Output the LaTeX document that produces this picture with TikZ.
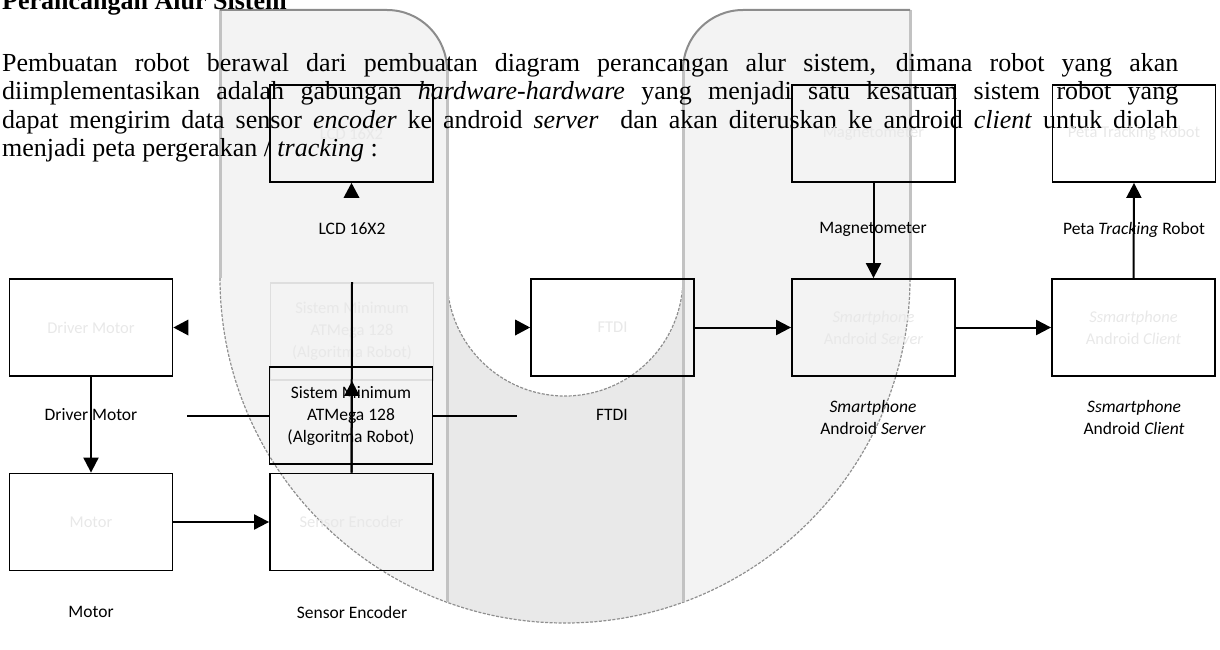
\documentclass[tikz,border=0pt]{standalone}
\usepackage{fontspec}
\setmainfont{Liberation Serif}
\newfontfamily\carl{Carlito}
\usetikzlibrary{arrows.meta}
\definecolor{armgray}{HTML}{F3F3F3}
\definecolor{midgray}{HTML}{E9E9E9}
\definecolor{edgegray}{HTML}{C2C2C2}
\definecolor{topgray}{HTML}{8C8C8C}
\definecolor{dashgray}{HTML}{8F8F8F}
\definecolor{faint}{HTML}{E8E8E8}
\definecolor{ghostline}{HTML}{DEDEDE}
\begin{document}
\begin{tikzpicture}[x=1pt,y=-1pt,
  box/.style={draw=black, line width=1.8pt, minimum width=163pt, minimum height=97pt, inner sep=0pt,
    font=\carl\fontsize{16.5pt}{22pt}\selectfont, text=faint, align=center},
  ghostbox/.style={box, draw=ghostline},
  lbl/.style={font=\carl\fontsize{17.5pt}{22pt}\selectfont, align=center, inner sep=0pt},
  conn/.style={line width=2pt, -{Triangle[length=15pt,width=15pt]}},
  plainline/.style={line width=2pt},
  para/.style={anchor=base west, inner sep=0pt, font=\fontsize{26pt}{28pt}\selectfont},
  arcline/.style={dashgray, line width=1.2pt, dash pattern=on 3pt off 1.5pt},
  sideline/.style={edgegray, line width=3pt},
  topline/.style={topgray, line width=2pt},
]
\useasboundingbox (0,0) rectangle (1220,650);
\clip (0,0) rectangle (1220,650);

% ---- U shape ----
\begin{scope}
  \clip (0,278) rectangle (1220,650);
  \fill[armgray] (565,278) circle[radius=345];
\end{scope}
\fill[armgray] (220,278) -- (220,10) -- (387,10) arc[start angle=-90,end angle=0,radius=60] -- (447,278) -- cycle;
\fill[armgray] (910,278) -- (910,10) -- (743,10) arc[start angle=-90,end angle=-180,radius=60] -- (683,278) -- cycle;
\begin{scope}
  \clip (565,278) circle[radius=345];
  \fill[midgray] (447,278) rectangle (683,650);
\end{scope}
\begin{scope}
  \clip (0,278) rectangle (1220,650);
  \fill[white] (565,278) circle[radius=118];
\end{scope}
\draw[arcline] (220,278) arc[start angle=180,end angle=0,radius=345];
\draw[arcline] (447,278) arc[start angle=180,end angle=0,radius=118];
\draw[sideline] (220,10) -- (220,278);
\draw[sideline] (447,70) -- (447,602);
\draw[sideline] (683,70) -- (683,602);
\draw[sideline] (910,10) -- (910,278);
\draw[topline] (220,10) -- (387,10) arc[start angle=-90,end angle=0,radius=60];
\draw[topline] (910,10) -- (743,10) arc[start angle=-90,end angle=-180,radius=60];

% ---- text of the page ----
\node[para, font=\bfseries\fontsize{26pt}{28pt}\selectfont] (title) at (2,10) {Perancangan Alur Sistem};
\node[para] (p1) at (2,71.5) {\makebox[1176pt][s]{Pembuatan robot berawal dari pembuatan diagram perancangan alur sistem, dimana robot yang akan}};
\node[para] (p2) at (2,100) {\makebox[1176pt][s]{diimplementasikan adalah gabungan \textit{hardware-hardware} yang menjadi satu kesatuan sistem robot yang}};
\node[para] (p3) at (2,128.3) {\makebox[1176pt][s]{dapat mengirim data sensor \textit{encoder} ke android \textit{server}\ \ dan akan diteruskan ke android \textit{client} untuk diolah}};
\node[para] (p4) at (2,156) {menjadi peta pergerakan / \textit{tracking} :};

% ---- boxes ----
\node[box] (lcd) at (351.5,133.5) {LCD 16X2};
\node[box] (mag) at (873.5,133.5) {Magnetometer};
\node[box] (peta) at (1134,133.5) {Peta Tracking Robot};
\node[box] (drv) at (91,327.5) {Driver Motor};
\node[ghostbox] (ghost) at (352,331.5) {Sistem Minimum\\ATMega 128\\(Algoritma Robot)};
\node[box] (ftdi) at (612.5,327.5) {FTDI};
\node[box] (srv) at (873.5,327.5) {\textit{Smartphone}\\Android \textit{Server}};
\node[box] (cli) at (1133.5,327.5) {\textit{Ssmartphone}\\Android \textit{Client}};
\node[box, text=black, font=\carl\fontsize{17.5pt}{22pt}\selectfont] (sis) at (351,415.5) {Sistem Minimum\\ATMega 128\\(Algoritma Robot)};
\node[box] (mot) at (91,522) {Motor};
\node[box] (sens) at (351.5,522) {Sensor Encoder};

% ---- labels ----
\node[lbl] (lLCD) at (352,229) {LCD 16X2};
\node[lbl] (lMag) at (873,229) {Magnetometer};
\node[lbl] (lPeta) at (1134,230) {Peta \textit{Tracking} Robot};
\node[lbl] (lDrv) at (91,415) {Driver Motor};
\node[lbl] (lFtdi) at (612,415) {FTDI};
\node[lbl] (lSrv) at (873,417) {\textit{Smartphone}\\Android \textit{Server}};
\node[lbl] (lCli) at (1134,417) {\textit{Ssmartphone}\\Android \textit{Client}};
\node[lbl] (lMot) at (91,612) {Motor};
\node[lbl] (lSens) at (352,612) {Sensor Encoder};

% ---- connectors ----
\draw[conn] (mag.south) -- (srv.north);
\draw[conn] (cli.north) -- (peta.south);
\draw[conn] (ftdi.east) -- (srv.west);
\draw[conn] (srv.east) -- (cli.west);
\draw[conn] (drv.south) -- (mot.north);
\draw[conn] (mot.east) -- (sens.west);
\draw[plainline] (sens.north) -- (ghost.north);
\draw[conn] (sens.north) -- (ghost.south);
\coordinate (hl) at (187,415.5);
\coordinate (hr) at (517,415.5);
\draw[plainline] (hl) -- (sis.west);
\draw[plainline] (sis.east) -- (hr);

% ---- stray arrowheads ----
\fill (drv.east) -- ++(15,-8) -- ++(0,16) -- cycle;
\fill (ftdi.west) -- ++(-15,-8) -- ++(0,16) -- cycle;
\fill (lcd.south) -- ++(-8,15) -- ++(16,0) -- cycle;
\end{tikzpicture}
\end{document}
